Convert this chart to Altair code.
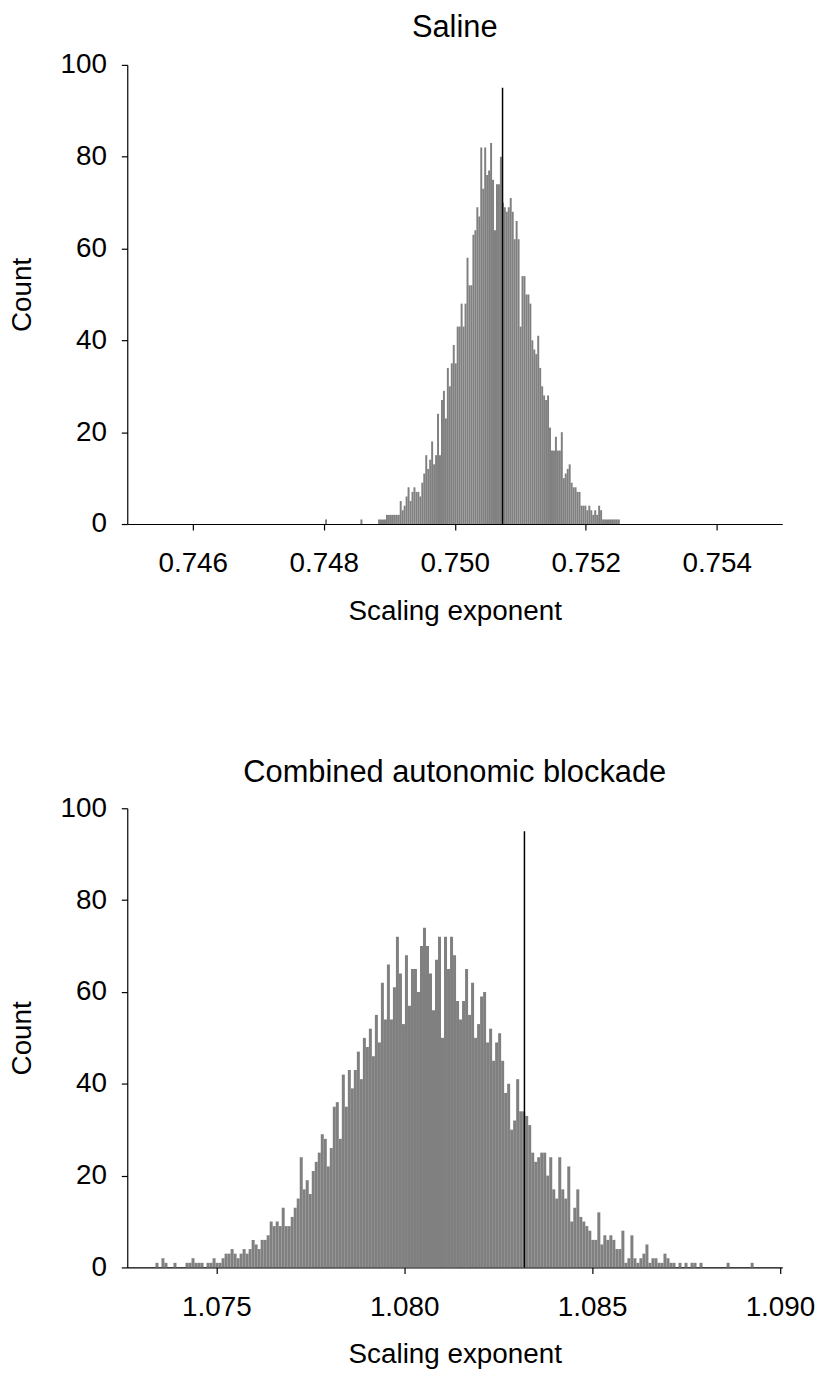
import altair as alt
import pandas as pd

TOP_TITLE = "Saline"
BOTTOM_TITLE = "Combined autonomic blockade"
X_TITLE = "Scaling exponent"
Y_TITLE = "Count"

# Saline bootstrap histogram
TOP_BIN_START = 0.74802
TOP_BIN_WIDTH = 0.00003
TOP_COUNTS = [
    1, 0, 0, 0, 0, 0, 0, 0, 0, 0,
    0, 0, 0, 0, 0, 0, 0, 0, 1, 0,
    0, 0, 0, 0, 0, 0, 0,
    1, 1, 1, 1, 2, 2, 2, 2, 2, 2,
    2, 5, 3, 4, 6, 8, 5, 7, 8, 7,
    7, 6, 9, 11, 15, 12, 14, 18, 13, 15,
    24, 15, 27, 29, 23, 34, 30, 35, 39, 35,
    43, 43, 48, 43, 48, 58, 52, 52, 63, 64,
    69, 67, 82, 73, 82, 76, 77, 83, 75, 64,
    74, 74, 80, 70, 69, 68, 69, 71, 68, 62,
    66, 62, 43, 54, 54, 50, 50, 48, 40, 38,
    37, 41, 34, 30, 28, 27, 28, 21, 16, 16,
    19, 16, 16, 20, 10, 11, 12, 13, 9, 8,
    8, 7, 7, 4, 4, 4, 3, 4, 3, 2,
    3, 2, 4, 3, 1, 1, 1, 1, 1, 1,
    1, 1, 1,
]
TOP_MARKER = 0.75073
TOP_X_DOMAIN = [0.745, 0.755]
TOP_X_TICKS = [0.746, 0.748, 0.750, 0.752, 0.754]

# Combined autonomic blockade bootstrap histogram
BOT_BIN_START = 1.07338
BOT_BIN_WIDTH = 0.00008
BOT_COUNTS = [
    1, 0, 2, 1, 0, 0, 1, 0, 0, 0,
    1, 1, 2, 1, 1, 1, 0, 1, 1, 2,
    1, 1, 2, 3, 3, 4, 3, 2, 3, 4,
    3, 4, 6, 5, 4, 6, 6, 7, 10, 9,
    10, 9, 13, 9, 9, 11, 13, 15, 24, 17,
    19, 16, 21, 23, 25, 29, 28, 22, 26, 35,
    36, 28, 42, 35, 43, 39, 43, 47, 41, 50,
    48, 52, 46, 55, 49, 62, 54, 66, 54, 61,
    72, 64, 53, 68, 57, 65, 65, 60, 70, 74,
    70, 64, 56, 67, 72, 50, 72, 65, 72, 68,
    58, 54, 58, 65, 55, 62, 50, 53, 59, 60,
    49, 52, 45, 49, 51, 45, 38, 40, 30, 32,
    41, 34, 34, 33, 31, 25, 23, 24, 25, 25,
    20, 24, 17, 15, 24, 17, 15, 22, 10, 13,
    17, 11, 10, 9, 8, 6, 6, 12, 5, 7,
    6, 7, 6, 4, 4, 8, 1, 2, 7, 2,
    1, 2, 3, 5, 1, 2, 2, 1, 1, 3,
    2, 1, 1, 0, 1, 0, 1, 0, 1, 1,
    0, 1, 0, 0, 0, 0, 0, 0, 0, 0,
    1, 0, 0, 0, 0, 0, 0, 0, 1,
]
BOT_MARKER = 1.0832
BOT_X_DOMAIN = [1.07263, 1.09006]
BOT_X_TICKS = [1.075, 1.080, 1.085, 1.090]

MARKER_HEIGHT = 95
Y_DOMAIN = [0, 100]
Y_TICKS = [0, 20, 40, 60, 80, 100]

FONT = "Liberation Sans"


def hist_frame(start, width, counts):
    rows = []
    for i, c in enumerate(counts):
        if c > 0:
            lo = start + i * width
            rows.append({"lo": lo, "hi": lo + width, "count": c})
    return pd.DataFrame(rows)


def panel(title, start, width, counts, marker, domain, ticks, offset):
    df = hist_frame(start, width, counts)
    xs = alt.Scale(domain=domain, nice=False, zero=False)
    ys = alt.Scale(domain=Y_DOMAIN, nice=False)
    bars = alt.Chart(df).mark_rect(color="#808080").encode(
        x=alt.X("lo:Q", scale=xs, title=X_TITLE,
                axis=alt.Axis(values=ticks, format=".3f")),
        x2="hi:Q",
        y=alt.Y("count:Q", scale=ys, title=Y_TITLE,
                axis=alt.Axis(values=Y_TICKS, format="d")),
        y2=alt.datum(0),
    )
    mdf = pd.DataFrame({"x": [marker], "y0": [0], "y1": [MARKER_HEIGHT]})
    rule = alt.Chart(mdf).mark_rule(color="black", strokeWidth=1.5).encode(
        x=alt.X("x:Q", scale=xs),
        y=alt.Y("y0:Q", scale=ys),
        y2="y1:Q",
    )
    return alt.layer(bars, rule).properties(
        width=659, height=462,
        title=alt.TitleParams(title, fontSize=31, font=FONT, fontWeight="normal",
                              color="black", offset=offset),
    )


top = panel(TOP_TITLE, TOP_BIN_START, TOP_BIN_WIDTH, TOP_COUNTS, TOP_MARKER,
            TOP_X_DOMAIN, TOP_X_TICKS, 7)
bottom = panel(BOTTOM_TITLE, BOT_BIN_START, BOT_BIN_WIDTH, BOT_COUNTS, BOT_MARKER,
               BOT_X_DOMAIN, BOT_X_TICKS, 5)

chart = alt.vconcat(top, bottom, spacing=133).properties(
    background="white",
    padding=0,
).configure_view(
    stroke=None
).configure_axis(
    grid=False,
    domainColor="black",
    tickColor="black",
    domainWidth=1.2,
    tickWidth=1.2,
    tickSize=6,
    labelFont=FONT,
    labelFontSize=28,
    labelColor="black",
    titleFont=FONT,
    titleFontSize=28,
    titleFontWeight="normal",
    titleColor="black",
).configure_axisY(
    labelPadding=15,
    titlePadding=24,
).configure_axisX(
    labelPadding=20,
    titlePadding=20,
)

chart.save("out.html", embed_options={"renderer": "svg", "actions": False})
